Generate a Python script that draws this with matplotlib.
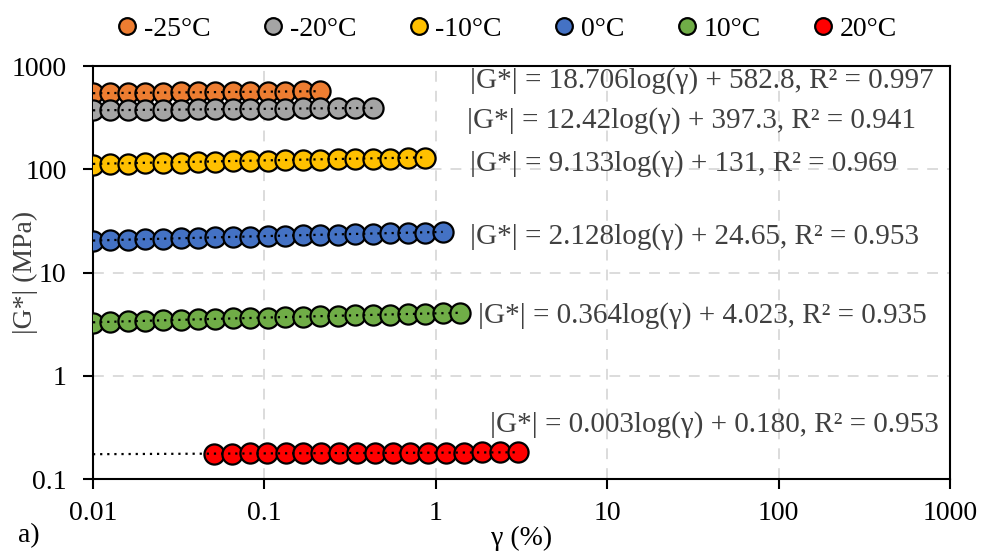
import numpy as np
import matplotlib
matplotlib.use("Agg")
import matplotlib.pyplot as plt
from matplotlib.lines import Line2D

# ─── Data ────────────────────────────────────────────────────────────────────
strain = [0.0100, 0.0126, 0.0160, 0.0202, 0.0256, 0.0324, 0.0409, 0.0518,
          0.0655, 0.0828, 0.1047, 0.1324, 0.1675, 0.2118, 0.2678, 0.3387,
          0.4284, 0.5418, 0.6852, 0.8666, 1.0960, 1.3861]
strain_20 = [0.051, 0.065, 0.082, 0.104, 0.133, 0.168, 0.214, 0.272, 0.346,
             0.44, 0.56, 0.71, 0.90, 1.15, 1.46, 1.86, 2.36, 3.0]

g_m25 = [543, 547, 549, 552, 553, 556, 557, 559, 561, 563, 564, 566, 568, 570]
g_m20 = [371, 374, 375, 377, 377, 379, 381, 381, 384, 384, 386, 387, 389,
         389, 391, 392, 392]
g_m10 = [110, 112, 113, 114, 115, 116, 117, 118, 119, 120, 121, 122, 123,
         124, 125, 126, 126, 127, 128, 129]
g_0 = [20.2, 20.5, 20.8, 21.0, 21.3, 21.4, 21.7, 21.9, 22.1, 22.3, 22.6,
       22.7, 23.0, 23.1, 23.3, 23.5, 23.8, 24.0, 24.2, 24.4, 24.6]
g_10 = [3.22, 3.31, 3.36, 3.40, 3.45, 3.48, 3.52, 3.55, 3.59, 3.62, 3.66,
        3.70, 3.73, 3.77, 3.80, 3.84, 3.87, 3.91, 3.94, 3.98, 4.01, 4.05]
g_20 = [0.176, 0.176, 0.177, 0.177, 0.177, 0.178, 0.178, 0.178, 0.179,
        0.179, 0.179, 0.180, 0.180, 0.180, 0.180, 0.181, 0.181, 0.181]

labels = ["-25°C", "-20°C", "-10°C", "0°C", "10°C", "20°C"]
colors = ["#ED7D31", "#A5A5A5", "#FFC000", "#4472C4", "#70AD47", "#FF0000"]
series_y = [g_m25, g_m20, g_m10, g_0, g_10, g_20]
series_x = [strain[:len(g_m25)], strain[:len(g_m20)], strain[:len(g_m10)],
            strain[:len(g_0)], strain[:len(g_10)], strain_20]

# trend line coefficients (|G*| = a*log(γ) + b) and labels
slopes = [18.706, 12.42, 9.133, 2.128, 0.364, 0.003]
intercepts = [582.8, 397.3, 131, 24.65, 4.023, 0.180]
eq_texts = [
    "|G*| = 18.706log(γ) + 582.8, R² = 0.997",
    "|G*| = 12.42log(γ) + 397.3, R² = 0.941",
    "|G*| = 9.133log(γ) + 131, R² = 0.969",
    "|G*| = 2.128log(γ) + 24.65, R² = 0.953",
    "|G*| = 0.364log(γ) + 4.023, R² = 0.935",
    "|G*| = 0.003log(γ) + 0.180, R² = 0.953",
]
eq_pos = [(0.440, 0.966), (0.436, 0.867), (0.440, 0.765),
          (0.440, 0.586), (0.449, 0.395), (0.463, 0.131)]

# ─── Plot ────────────────────────────────────────────────────────────────────
plt.rcParams['font.family'] = ['Liberation Serif', 'DejaVu Serif']

fig = plt.figure(figsize=(9.84, 5.52), dpi=100)
ax = fig.add_axes([0.0945, 0.1322, 0.8710, 0.7482])

for xs, ys, c, a, b in zip(series_x, series_y, colors, slopes, intercepts):
    ax.plot(xs, ys, 'o', ms=14.5, mfc=c, mec='black', mew=1.6, zorder=3)
    xt = np.logspace(-2, np.log10(xs[-1]), 100)
    ax.plot(xt, a * np.log10(xt) + b, color='black', ls=(0, (1, 2.2)),
            lw=1.6, zorder=4)

ax.set_xscale('log')
ax.set_yscale('log')
ax.set_xlim(0.01, 1000)
ax.set_ylim(0.1, 1000)
ax.set_xticks([0.01, 0.1, 1, 10, 100, 1000])
ax.set_xticklabels(["0.01", "0.1", "1", "10", "100", "1000"])
ax.set_yticks([0.1, 1, 10, 100, 1000])
ax.set_yticklabels(["0.1", "1", "10", "100", "1000"])
ax.minorticks_off()
ax.tick_params(axis='both', labelsize=20, direction='out', length=7,
               width=1.5)
ax.tick_params(axis='x', pad=9)
ax.tick_params(axis='y', pad=12)
ax.grid(True, color='#D9D9D9', ls=(0, (6, 5)), lw=1.3, zorder=0)
for s in ax.spines.values():
    s.set_linewidth(1.5)

ax.set_xlabel("γ (%)", fontsize=20, labelpad=0)
ax.set_ylabel("|G*| (MPa)", fontsize=20, color='#404040')
ax.yaxis.set_label_coords(-0.064, 0.5)

for txt, (tx, ty) in zip(eq_texts, eq_pos):
    ax.text(tx, ty, txt, transform=ax.transAxes, fontsize=21,
            color='#404040', ha='left', va='center', zorder=5)

fig.text(0.018, 0.018, "a)", fontsize=20)

handles = [Line2D([], [], ls='none', marker='o', ms=12, mfc=c, mec='black',
                  mew=1.6) for c in colors]
fig.legend(handles, labels, loc='upper center', bbox_to_anchor=(0.512, 1.015),
           ncol=6, frameon=False, fontsize=20, handletextpad=0.0,
           columnspacing=1.65, handlelength=1.2)

plt.savefig("out.png", dpi=100)
plt.close()
